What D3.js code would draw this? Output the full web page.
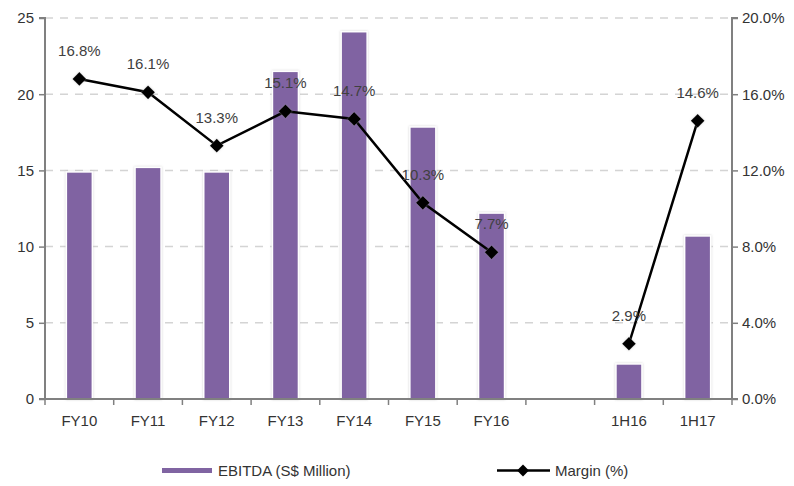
<!DOCTYPE html>
<html>
<head>
<meta charset="utf-8">
<script src="https://cdn.jsdelivr.net/npm/d3@7"></script>
<style>
  body { margin: 0; background: #fff; }
  svg { display: block; font-family: "Liberation Sans", Arial, sans-serif; }
</style>
</head>
<body>
<svg id="chart" width="794" height="486"></svg>
<script>
// Periods on the x axis (empty slot separates full years from half years)
const categories = ["FY10", "FY11", "FY12", "FY13", "FY14", "FY15", "FY16", "", "1H16", "1H17"];
// EBITDA, S$ million
const ebitda = [14.9, 15.2, 14.9, 21.5, 24.1, 17.85, 12.2, null, 2.3, 10.7];
// EBITDA margin, %
const margin = [16.8, 16.1, 13.3, 15.1, 14.7, 10.3, 7.7, null, 2.9, 14.6];
const leftTicks = [0, 5, 10, 15, 20, 25];
const rightTicks = [0, 4, 8, 12, 16, 20];

const svg = d3.select("#chart");
const L = 45, R = 732, T = 18, B = 399;

const x = d3.scaleBand().domain(d3.range(categories.length)).range([L, R]).padding(0);
const yL = d3.scaleLinear().domain([0, 25]).range([B, T]);
const yR = d3.scaleLinear().domain([0, 20]).range([B, T]);

const defs = svg.append("defs");
const f = defs.append("filter").attr("id", "soft").attr("x", "-30%").attr("y", "-10%").attr("width", "160%").attr("height", "120%");
f.append("feDropShadow").attr("dx", 0).attr("dy", 0).attr("stdDeviation", 1.2).attr("flood-color", "#999").attr("flood-opacity", 0.45);

// Gridlines
svg.append("g").selectAll("line").data(leftTicks.filter(d => d > 0)).join("line")
  .attr("x1", L).attr("x2", R)
  .attr("y1", d => yL(d)).attr("y2", d => yL(d))
  .attr("stroke", "#d4d4d4").attr("stroke-width", 1.5).attr("stroke-dasharray", "8,7");

// Bars
const bw = 26;
svg.append("g").selectAll("rect").data(ebitda.map((v, i) => ({v, i})).filter(d => d.v != null)).join("rect")
  .attr("x", d => x(d.i) + x.bandwidth() / 2 - bw / 2)
  .attr("width", bw)
  .attr("y", d => yL(d.v))
  .attr("height", d => yL(0) - yL(d.v))
  .attr("fill", "#8064A2")
  .attr("stroke", "#fff").attr("stroke-width", 1.5)
  .attr("filter", "url(#soft)");

// Left axis
const axisColor = "#808080";
const gL = svg.append("g").attr("transform", `translate(${L},0)`)
  .call(d3.axisLeft(yL).tickValues(leftTicks).tickSize(6).tickPadding(5).tickFormat(d3.format("d")));
gL.select(".domain").attr("stroke", axisColor).attr("stroke-width", 2).attr("d", `M-6,${T}H0V${B}H-6`);
gL.selectAll(".tick line").attr("stroke", axisColor).attr("stroke-width", 1.5);
gL.selectAll("text").attr("font-size", 15).attr("fill", "#333").attr("font-family", "Liberation Sans, Arial, sans-serif");

// Right axis
const gR = svg.append("g").attr("transform", `translate(${R},0)`)
  .call(d3.axisRight(yR).tickValues(rightTicks).tickSize(6).tickPadding(4).tickFormat(d => d3.format(".1f")(d) + "%"));
gR.select(".domain").attr("stroke", axisColor).attr("stroke-width", 2).attr("d", `M6,${T}H0V${B}H6`);
gR.selectAll(".tick line").attr("stroke", axisColor).attr("stroke-width", 1.5);
gR.selectAll("text").attr("font-size", 15).attr("fill", "#333").attr("font-family", "Liberation Sans, Arial, sans-serif");

// X axis baseline with ticks at band boundaries
const gX = svg.append("g");
gX.append("line").attr("x1", L).attr("x2", R).attr("y1", B).attr("y2", B)
  .attr("stroke", axisColor).attr("stroke-width", 2);
gX.selectAll("line.tk").data(d3.range(categories.length + 1)).join("line").attr("class", "tk")
  .attr("x1", i => L + i * x.bandwidth()).attr("x2", i => L + i * x.bandwidth())
  .attr("y1", B).attr("y2", B + 6).attr("stroke", axisColor).attr("stroke-width", 1.5);
gX.selectAll("text").data(categories).join("text")
  .attr("x", (d, i) => x(i) + x.bandwidth() / 2).attr("y", B + 27)
  .attr("text-anchor", "middle").attr("font-size", 15).attr("fill", "#333").text(d => d);

// Margin line (two segments, broken at the empty slot)
const pts = margin.map((v, i) => ({v, i}));
const line = d3.line().defined(d => d.v != null)
  .x(d => x(d.i) + x.bandwidth() / 2).y(d => yR(d.v));
svg.append("path").datum(pts).attr("d", line)
  .attr("fill", "none").attr("stroke", "#000").attr("stroke-width", 2.5);

const diamond = d3.symbol().type(d3.symbolDiamond2).size(120);
const valid = pts.filter(d => d.v != null);
svg.append("g").selectAll("path").data(valid).join("path")
  .attr("transform", d => `translate(${x(d.i) + x.bandwidth() / 2},${yR(d.v)})`)
  .attr("d", diamond).attr("fill", "#000").attr("filter", "url(#soft)");

// Margin value labels above each marker
svg.append("g").selectAll("text").data(valid).join("text")
  .attr("x", d => x(d.i) + x.bandwidth() / 2)
  .attr("y", d => yR(d.v) - 23)
  .attr("text-anchor", "middle").attr("font-size", 15).attr("fill", "#404040")
  .text(d => d3.format(".1f")(d.v) + "%");

// Legend
const lg = svg.append("g");
lg.append("rect").attr("x", 162).attr("y", 468).attr("width", 50).attr("height", 5).attr("fill", "#8064A2");
lg.append("text").attr("x", 218).attr("y", 476).attr("font-size", 15).attr("fill", "#333").text("EBITDA (S$ Million)");
lg.append("line").attr("x1", 497).attr("x2", 550).attr("y1", 470.5).attr("y2", 470.5).attr("stroke", "#000").attr("stroke-width", 2.5);
lg.append("path").attr("transform", "translate(523,470.5)").attr("d", d3.symbol().type(d3.symbolDiamond2).size(90)).attr("fill", "#000");
lg.append("text").attr("x", 555).attr("y", 476).attr("font-size", 15).attr("fill", "#333").text("Margin (%)");
</script>
</body>
</html>
